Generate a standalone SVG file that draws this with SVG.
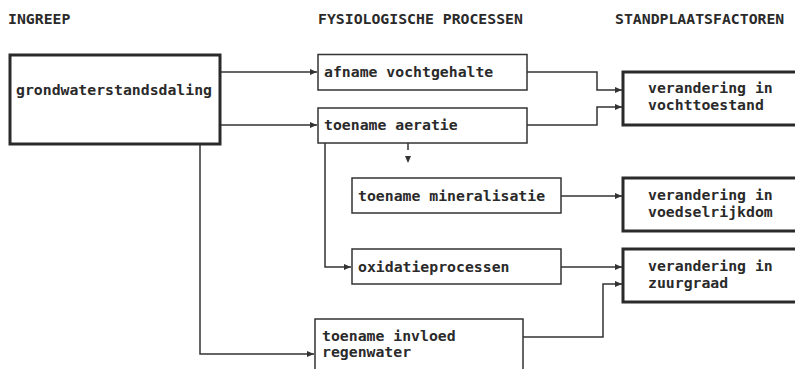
<svg xmlns="http://www.w3.org/2000/svg" width="795" height="369" viewBox="0 0 795 369">
<style>
text{font-family:"DejaVu Sans Mono","Liberation Mono",monospace;font-weight:bold;font-size:14.8px;fill:#2a2a2a}
.thin{fill:#fff;stroke:#333;stroke-width:1.5}
.thick{fill:#fff;stroke:#2a2a2a;stroke-width:3}
.con{fill:none;stroke:#333;stroke-width:1.5}
</style>
<defs>
<marker id="ah" markerUnits="userSpaceOnUse" markerWidth="8" markerHeight="6" refX="7" refY="3" orient="auto">
<path d="M0 0 L7 3 L0 6 Z" fill="#333"/>
</marker>
</defs>
<rect width="795" height="369" fill="#fff"/>
<g id="headings">
<text x="8" y="24">INGREEP</text>
<text x="318" y="24">FYSIOLOGISCHE PROCESSEN</text>
<text x="615" y="24">STANDPLAATSFACTOREN</text>
</g>
<g id="connectors">
<path class="con" d="M220 72 H317" marker-end="url(#ah)"/>
<path class="con" d="M220 125 H317" marker-end="url(#ah)"/>
<path class="con" d="M200 144 V354 H314" marker-end="url(#ah)"/>
<path class="con" d="M527 72 H597 V90 H622" marker-end="url(#ah)"/>
<path class="con" d="M527 125 H597 V107 H622" marker-end="url(#ah)"/>
<path class="con" d="M408 143 V150"/>
<path d="M405 156 L411 156 L408 163 Z" fill="#333"/>
<path class="con" d="M325 143 V267 H351" marker-end="url(#ah)"/>
<path class="con" d="M561 196 H622" marker-end="url(#ah)"/>
<path class="con" d="M561 267 H622" marker-end="url(#ah)"/>
<path class="con" d="M523 337 H603 V284 H622" marker-end="url(#ah)"/>
</g>
<g id="n-grondwater">
<rect class="thick" x="10" y="55" width="210" height="89"/>
<text x="16" y="95">grondwaterstandsdaling</text>
</g>
<g id="n-afname">
<rect class="thin" x="318" y="54.5" width="209" height="35.5"/>
<text x="324" y="77">afname vochtgehalte</text>
</g>
<g id="n-aeratie">
<rect class="thin" x="318" y="108" width="209" height="35"/>
<text x="324" y="130">toename aeratie</text>
</g>
<g id="n-mineralisatie">
<rect class="thin" x="352" y="178" width="209" height="35"/>
<text x="358" y="201">toename mineralisatie</text>
</g>
<g id="n-oxidatie">
<rect class="thin" x="352" y="249" width="209" height="35"/>
<text x="358" y="272">oxidatieprocessen</text>
</g>
<g id="n-invloed">
<rect class="thin" x="315" y="319" width="208" height="60"/>
<text x="322" y="341">toename invloed</text>
<text x="322" y="357">regenwater</text>
</g>
<g id="n-vocht">
<rect class="thick" x="623" y="72" width="176" height="53"/>
<text x="648" y="93">verandering in</text>
<text x="648" y="110">vochttoestand</text>
</g>
<g id="n-voedsel">
<rect class="thick" x="623" y="178" width="176" height="53"/>
<text x="648" y="200">verandering in</text>
<text x="648" y="217">voedselrijkdom</text>
</g>
<g id="n-zuur">
<rect class="thick" x="623" y="249" width="176" height="53"/>
<text x="648" y="271">verandering in</text>
<text x="648" y="288">zuurgraad</text>
</g>
</svg>
